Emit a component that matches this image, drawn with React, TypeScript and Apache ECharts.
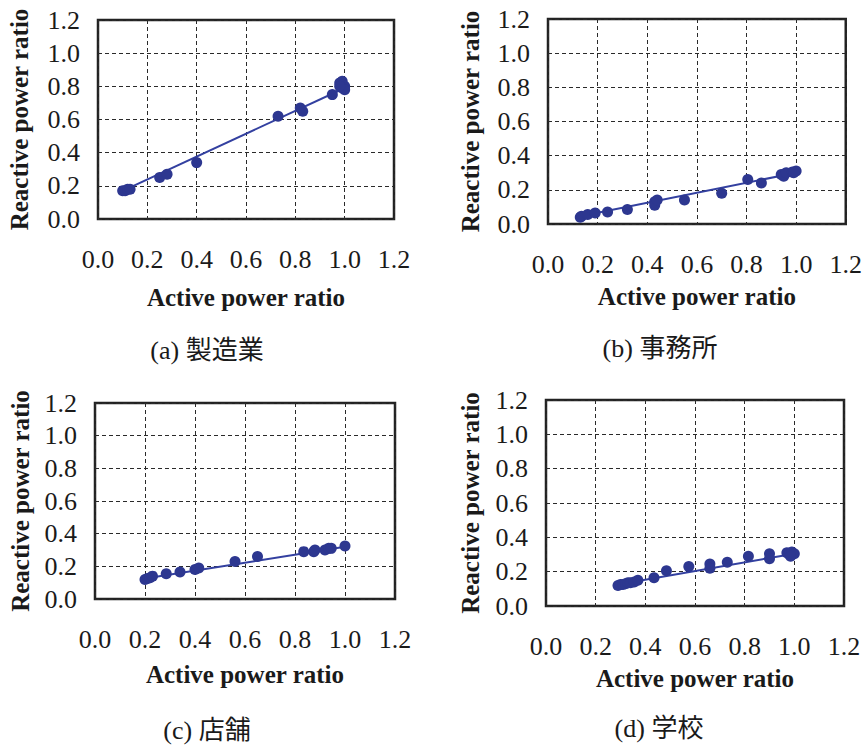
import React, { useEffect, useRef } from "react";
import * as echarts from "echarts";

const xTicks = ["0.0", "0.2", "0.4", "0.6", "0.8", "1.0", "1.2"];
const captions = ["(a) 製造業", "(b) 事務所", "(c) 店舗", "(d) 学校"];
const xTitle = "Active power ratio";
const yTitle = "Reactive power ratio";

const pointsA: number[][] = [
  [0.10, 0.17], [0.11, 0.17], [0.12, 0.18], [0.13, 0.18], [0.25, 0.25], [0.28, 0.27],
  [0.40, 0.34], [0.73, 0.62], [0.82, 0.67], [0.83, 0.65], [0.95, 0.75], [0.98, 0.82],
  [0.99, 0.83], [1.00, 0.80], [0.99, 0.79], [1.00, 0.78], [0.98, 0.80],
];
const fitA: number[][] = [[0.10, 0.17], [1.00, 0.79]];

const pointsB: number[][] = [
  [0.13, 0.04], [0.135, 0.045], [0.16, 0.055], [0.19, 0.065], [0.24, 0.07], [0.32, 0.085],
  [0.43, 0.13], [0.43, 0.11], [0.44, 0.14], [0.55, 0.14], [0.70, 0.18], [0.805, 0.26],
  [0.86, 0.24], [0.94, 0.29], [0.95, 0.28], [0.96, 0.30], [0.985, 0.305], [1.0, 0.31], [0.99, 0.30],
];
const fitB: number[][] = [[0.13, 0.045], [1.0, 0.30]];

const pointsC: number[][] = [
  [0.20, 0.12], [0.21, 0.125], [0.22, 0.13], [0.23, 0.14], [0.285, 0.155], [0.34, 0.165],
  [0.40, 0.18], [0.415, 0.19], [0.56, 0.23], [0.65, 0.26], [0.835, 0.29], [0.875, 0.29],
  [0.88, 0.30], [0.92, 0.30], [0.935, 0.31], [0.945, 0.31], [1.0, 0.325],
];
const fitC: number[][] = [[0.20, 0.125], [1.0, 0.32]];

const pointsD: number[][] = [
  [0.29, 0.12], [0.30, 0.125], [0.31, 0.125], [0.32, 0.13], [0.33, 0.135], [0.34, 0.135],
  [0.355, 0.14], [0.37, 0.15], [0.435, 0.165], [0.485, 0.205], [0.575, 0.23], [0.66, 0.245],
  [0.66, 0.22], [0.73, 0.255], [0.815, 0.29], [0.90, 0.305], [0.90, 0.275], [0.97, 0.31],
  [0.98, 0.30], [0.99, 0.315], [1.0, 0.305], [0.985, 0.29],
];
const fitD: number[][] = [[0.29, 0.125], [1.0, 0.305]];

const allPoints = [pointsA, pointsB, pointsC, pointsD];
const allFits = [fitA, fitB, fitC, fitD];

const grids = [
  { left: 98, top: 20, width: 296, height: 199 },
  { left: 548, top: 19, width: 299, height: 205 },
  { left: 95, top: 403, width: 300, height: 196 },
  { left: 546, top: 400, width: 298, height: 206 },
];
const xNameGaps = [66, 60, 63, 60];
const yNameGaps = [66, 65, 62, 63];
const captionPos = [
  [207, 350],
  [660, 348],
  [207, 730],
  [659, 728],
];

const SERIF = "Liberation Serif";
const CAPTION_FONT = "Liberation Serif, Noto Sans CJK JP";
const DOT = "#2d3790";

export default function App() {
  const ref = useRef<HTMLDivElement>(null);
  useEffect(() => {
    if (!ref.current) return;
    const chart = echarts.init(ref.current, undefined, { renderer: "svg" });
    const splitLine = {
      show: true,
      lineStyle: { color: "#2a2a2a", width: 1, type: [4, 3] as any },
    };
    const tickLabel = (margin: number) => ({
      fontFamily: SERIF,
      fontSize: 26,
      color: "#1a1a1a",
      margin,
      formatter: (v: number) => xTicks[Math.round(v / 0.2)],
    });
    const nameStyle = { fontFamily: SERIF, fontSize: 25, fontWeight: "bold", color: "#1a1a1a" };
    const option: any = {
      animation: false,
      backgroundColor: "#ffffff",
      grid: grids.map((g) => ({
        ...g,
        show: true,
        borderColor: "#222",
        borderWidth: 2.5,
        backgroundColor: "transparent",
      })),
      xAxis: grids.map((_, i) => ({
        type: "value",
        gridIndex: i,
        min: 0,
        max: 1.2,
        interval: 0.2,
        axisLine: { show: false },
        axisTick: { show: false },
        splitLine,
        axisLabel: tickLabel(27),
        name: xTitle,
        nameLocation: "middle",
        nameGap: xNameGaps[i],
        nameTextStyle: nameStyle,
      })),
      yAxis: grids.map((_, i) => ({
        type: "value",
        gridIndex: i,
        min: 0,
        max: 1.2,
        interval: 0.2,
        axisLine: { show: false },
        axisTick: { show: false },
        splitLine,
        axisLabel: tickLabel(18),
        name: yTitle,
        nameLocation: "middle",
        nameRotate: 90,
        nameGap: yNameGaps[i],
        nameTextStyle: nameStyle,
      })),
      series: [
        ...allFits.map((d, i) => ({
          type: "line",
          xAxisIndex: i,
          yAxisIndex: i,
          data: d,
          symbol: "none",
          lineStyle: { color: "#3340a0", width: 2 },
          z: 2,
        })),
        ...allPoints.map((d, i) => ({
          type: "scatter",
          xAxisIndex: i,
          yAxisIndex: i,
          data: d,
          symbol: "circle",
          symbolSize: 11,
          itemStyle: { color: DOT, opacity: 1 },
          z: 3,
        })),
      ],
      graphic: captions.map((c, i) => ({
        type: "text",
        x: captionPos[i][0],
        y: captionPos[i][1],
        style: {
          text: c,
          fontFamily: CAPTION_FONT,
          fontSize: 26,
          fill: "#1a1a1a",
          textAlign: "center",
          textVerticalAlign: "middle",
        },
      })),
    };
    chart.setOption(option);
    return () => chart.dispose();
  }, []);
  return (
    <div
      ref={ref}
      style={{ position: "absolute", left: 0, top: 0, width: 865, height: 750 }}
    />
  );
}
